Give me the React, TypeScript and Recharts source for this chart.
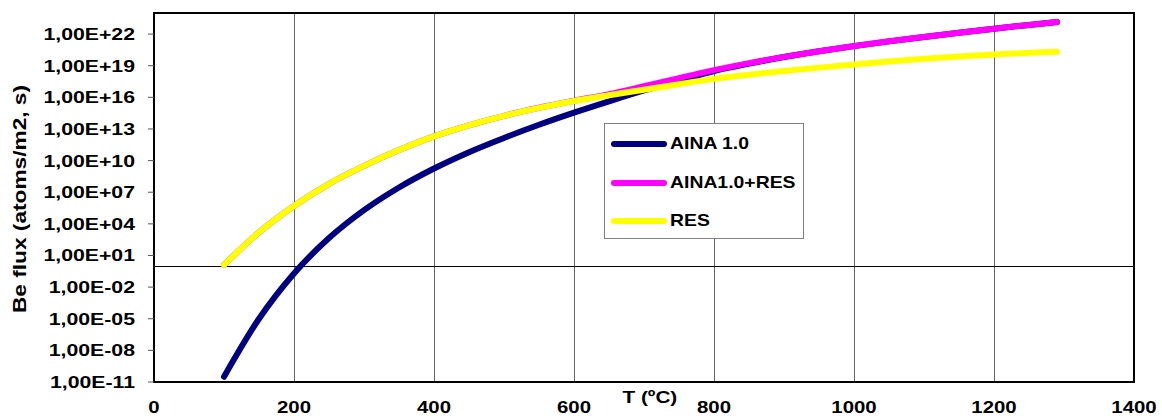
import {
	CartesianGrid,
	Legend,
	Line,
	LineChart,
	ReferenceArea,
	ReferenceLine,
	XAxis,
	YAxis,
} from "recharts";

// temperatures (ºC) where the curves were read
const temps = [
	100, 150, 200, 250, 300, 350, 400, 450, 500, 550, 600, 650, 700, 750, 800,
	850, 900, 950, 1000, 1050, 1100, 1150, 1200, 1250, 1290,
];

// log10 of Be flux
const ainaLog = [
	-10.5, -5.0, -0.7, 2.65, 5.3, 7.45, 9.25, 10.8, 12.15, 13.4, 14.55, 15.62,
	16.65, 17.58, 18.5, 19.2, 19.82, 20.37, 20.86, 21.31, 21.73, 22.13, 22.51,
	22.87, 23.15,
];
const sumLog = [
	0.1, 3.2, 5.7, 7.8, 9.5, 11.0, 12.3, 13.35, 14.25, 15.01, 15.68, 16.3, 17.05,
	17.83, 18.58, 19.25, 19.84, 20.38, 20.87, 21.32, 21.73, 22.13, 22.51, 22.87,
	23.15,
];
const resLog = [
	0.1, 3.2, 5.7, 7.8, 9.5, 11.0, 12.3, 13.35, 14.25, 15.0, 15.65, 16.2, 16.72,
	17.25, 17.75, 18.15, 18.5, 18.82, 19.12, 19.4, 19.65, 19.87, 20.07, 20.22,
	20.32,
];

const xTicks = [0, 200, 400, 600, 800, 1000, 1200, 1400];
const yTicks = [1e-11, 1e-8, 1e-5, 1e-2, 1e1, 1e4, 1e7, 1e10, 1e13, 1e16, 1e19, 1e22];

const seriesNames = ["AINA 1.0", "AINA1.0+RES", "RES"];
const seriesColors = ["#000080", "#FF00FF", "#FFFF00"];

const data = temps.map((t, i) => ({
	t,
	aina: Math.pow(10, ainaLog[i]),
	sum: Math.pow(10, sumLog[i]),
	res: Math.pow(10, resLog[i]),
}));

const FONT = '"Liberation Sans", Arial, sans-serif';

function fmtExp(v: number) {
	const e = Math.round(Math.log10(v));
	const sign = e < 0 ? "-" : "+";
	const abs = Math.abs(e).toString().padStart(2, "0");
	return `1,00E${sign}${abs}`;
}

function YTick({ x, y, payload }: any) {
	return (
		<g transform={`translate(${x},${y})`}>
			<text
				transform="scale(1.25,1)"
				textAnchor="end"
				dy={6}
				fontSize={17}
				fontWeight="bold"
				fontFamily={FONT}
				fill="#000"
			>
				{fmtExp(payload.value)}
			</text>
		</g>
	);
}

function XTick({ x, y, payload }: any) {
	return (
		<g transform={`translate(${x},${y})`}>
			<text
				transform="scale(1.2,1)"
				textAnchor="middle"
				dy={31}
				fontSize={17}
				fontWeight="bold"
				fontFamily={FONT}
				fill="#000"
			>
				{payload.value}
			</text>
		</g>
	);
}

function XTitle({ viewBox }: any) {
	const x = viewBox.x + viewBox.width * 0.506;
	const y = viewBox.y + 21;
	return (
		<g transform={`translate(${x},${y}) scale(1.22,1)`}>
			<text textAnchor="middle" fontSize={17} fontWeight="bold" fontFamily={FONT} fill="#000">
				T (ºC)
			</text>
		</g>
	);
}

function YTitle({ viewBox }: any) {
	const x = viewBox.x + 26;
	const y = viewBox.y + 186;
	return (
		<g transform={`translate(${x},${y}) rotate(-90) scale(1.26,1)`}>
			<text textAnchor="middle" fontSize={18} fontWeight="bold" fontFamily={FONT} fill="#000">
				Be flux (atoms/m2, s)
			</text>
		</g>
	);
}

function LegendBox() {
	const rows = [20, 59, 97];
	return (
		<div
			style={{
				position: "relative",
				width: 200,
				height: 116,
				border: "1px solid #808080",
				background: "#fff",
				boxSizing: "border-box",
			}}
		>
			{seriesNames.map((name, i) => (
				<div
					key={name}
					style={{
						position: "absolute",
						left: 6,
						top: rows[i] - 11,
						height: 22,
						display: "flex",
						alignItems: "center",
						whiteSpace: "nowrap",
					}}
				>
					<svg width={56} height={10} style={{ display: "block" }}>
						<line x1={3} x2={53} y1={5} y2={5} stroke={seriesColors[i]} strokeWidth={6} strokeLinecap="round" />
					</svg>
					<span
						style={{
							display: "inline-block",
							marginLeft: 3,
							fontFamily: FONT,
							fontWeight: "bold",
							fontSize: 17,
							transform: "scaleX(1.14)",
							transformOrigin: "left center",
						}}
					>
						{name}
					</span>
				</div>
			))}
		</div>
	);
}

export default function App() {
	return (
		<div style={{ position: "absolute", left: 0, top: 0, width: 1162, height: 416, background: "#fff" }}>
			<LineChart width={1162} height={416} data={data} margin={{ top: 13, right: 28, left: 0, bottom: 0 }}>
				<CartesianGrid horizontal={false} stroke="#666" strokeWidth={1} shapeRendering="crispEdges" />
				<XAxis
					type="number"
					dataKey="t"
					domain={[0, 1400]}
					ticks={xTicks}
					allowDataOverflow
					height={34}
					axisLine={false}
					tickLine={false}
					tickSize={0}
					tickMargin={0}
					tick={<XTick />}
					interval={0}
					label={<XTitle />}
				/>
				<YAxis
					scale="log"
					domain={[1e-11, 1e24]}
					ticks={yTicks}
					allowDataOverflow
					width={154}
					axisLine={false}
					tickLine={{ stroke: "#555" }}
					tickSize={6}
					tickMargin={13}
					tick={<YTick />}
					interval={0}
					label={<YTitle />}
				/>
				<ReferenceLine y={1} stroke="#000" strokeWidth={1} shapeRendering="crispEdges" />
				<Line dataKey="aina" name={seriesNames[0]} stroke={seriesColors[0]} strokeWidth={6} strokeLinecap="round" type="monotone" dot={false} isAnimationActive={false} />
				<Line dataKey="sum" name={seriesNames[1]} stroke={seriesColors[1]} strokeWidth={6} strokeLinecap="round" type="monotone" dot={false} isAnimationActive={false} />
				<Line dataKey="res" name={seriesNames[2]} stroke={seriesColors[2]} strokeWidth={6} strokeLinecap="round" type="monotone" dot={false} isAnimationActive={false} />
				<ReferenceArea x1={0} x2={1400} y1={1e-11} y2={1e24} fill="none" stroke="#000" strokeWidth={2} ifOverflow="visible" />
				<Legend
					layout="vertical"
					align="center"
					verticalAlign="middle"
					content={<LegendBox />}
					wrapperStyle={{ left: 604, top: 123, width: 200, height: 116 }}
				/>
			</LineChart>
		</div>
	);
}
